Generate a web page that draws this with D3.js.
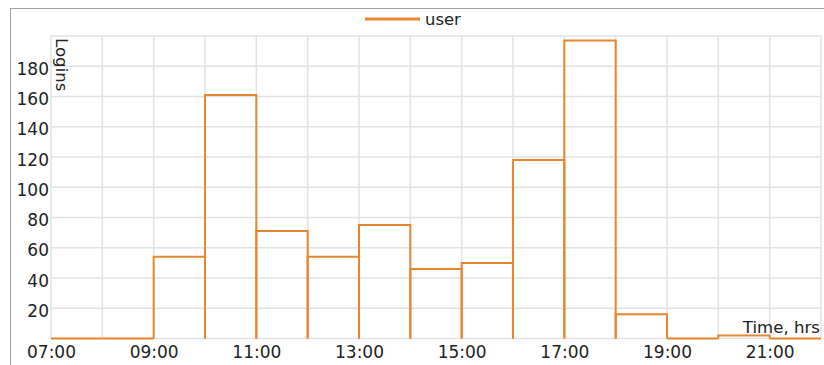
<!DOCTYPE html>
<html>
<head>
<meta charset="utf-8">
<script src="https://cdn.jsdelivr.net/npm/d3@7/dist/d3.min.js"></script>
<style>
  html, body { margin: 0; padding: 0; background: #fff; }
  svg { display: block; font-family: "DejaVu Sans", sans-serif; }
</style>
</head>
<body>
<svg id="chart" width="824" height="365"></svg>
<script>
// Hourly login counts: each bar spans [startHour, startHour + 1)
const startHours = [7, 8, 9, 10, 11, 12, 13, 14, 15, 16, 17, 18, 19, 20, 21];
const logins     = [0, 0, 54, 161, 71, 54, 75, 46, 50, 118, 197, 16, 0, 2, 0];
const seriesName = "user";
const xTickHours = [7, 9, 11, 13, 15, 17, 19, 21];
const yTickValues = [20, 40, 60, 80, 100, 120, 140, 160, 180];
const xLabel = "Time, hrs";
const yLabel = "Logins";

const lineColor = "#e8862f";
const gridColor = "#e2e2e2";
const textColor = "#222";
const tickFont = 17;
const titleFont = 16.6;

const svg = d3.select("#chart");
const plot = { left: 51, right: 821, top: 36, bottom: 338.5 };

const x = d3.scaleLinear().domain([7, 22]).range([plot.left, plot.right]);
const y = d3.scaleLinear().domain([0, 200]).range([plot.bottom, plot.top]);

// Outer frame (top and left edges visible)
svg.append("rect")
  .attr("x", 10.5).attr("y", 8.5)
  .attr("width", 900).attr("height", 400)
  .attr("fill", "none").attr("stroke", "#a3a3a8").attr("stroke-width", 1);

// Grid
const grid = svg.append("g").attr("stroke", gridColor).attr("stroke-width", 1.5);
grid.selectAll("line.v")
  .data(d3.range(7, 23))
  .join("line")
  .attr("class", "v")
  .attr("x1", d => x(d)).attr("x2", d => x(d))
  .attr("y1", plot.top).attr("y2", plot.bottom);
grid.selectAll("line.h")
  .data(d3.range(0, 201, 20))
  .join("line")
  .attr("class", "h")
  .attr("x1", plot.left).attr("x2", plot.right)
  .attr("y1", d => y(d)).attr("y2", d => y(d));

// Y axis tick labels
const yAxis = d3.axisLeft(y).tickValues(yTickValues).tickSize(0).tickPadding(2);
const gy = svg.append("g").attr("transform", `translate(${plot.left},0)`).call(yAxis);
gy.select(".domain").remove();
gy.selectAll("text")
  .attr("font-size", tickFont).attr("font-family", "DejaVu Sans, sans-serif")
  .attr("fill", textColor).attr("dy", "0.48em");

// X axis tick labels
const xAxis = d3.axisBottom(x).tickValues(xTickHours)
  .tickFormat(h => String(h).padStart(2, "0") + ":00")
  .tickSize(0).tickPadding(7);
const gx = svg.append("g").attr("transform", `translate(0,${plot.bottom})`).call(xAxis);
gx.select(".domain").remove();
gx.selectAll("text")
  .attr("font-size", tickFont).attr("font-family", "DejaVu Sans, sans-serif")
  .attr("fill", textColor);

// Axis titles
svg.append("text")
  .attr("x", plot.right - 1).attr("y", 333)
  .attr("text-anchor", "end").attr("font-size", titleFont).attr("fill", textColor)
  .text(xLabel);
svg.append("text")
  .attr("transform", `translate(56,38) rotate(90)`)
  .attr("text-anchor", "start").attr("font-size", titleFont).attr("fill", textColor)
  .text(yLabel);

// Bars drawn as open outlines (top and sides)
const bars = startHours.map((h, i) => ({ h, v: logins[i] }));
svg.append("g").selectAll("path")
  .data(bars)
  .join("path")
  .attr("fill", "none")
  .attr("stroke", lineColor)
  .attr("stroke-width", 2)
  .attr("d", d => {
    const x0 = x(d.h), x1 = x(d.h + 1), yb = y(0), yt = y(d.v);
    return `M${x0},${yb}V${yt}H${x1}V${yb}`;
  });

// Legend
const legend = svg.append("g");
legend.append("line")
  .attr("x1", 365).attr("x2", 420).attr("y1", 19).attr("y2", 19)
  .attr("stroke", lineColor).attr("stroke-width", 3);
legend.append("text")
  .attr("x", 425).attr("y", 25)
  .attr("font-size", 16.4).attr("fill", textColor)
  .text(seriesName);
</script>
</body>
</html>
